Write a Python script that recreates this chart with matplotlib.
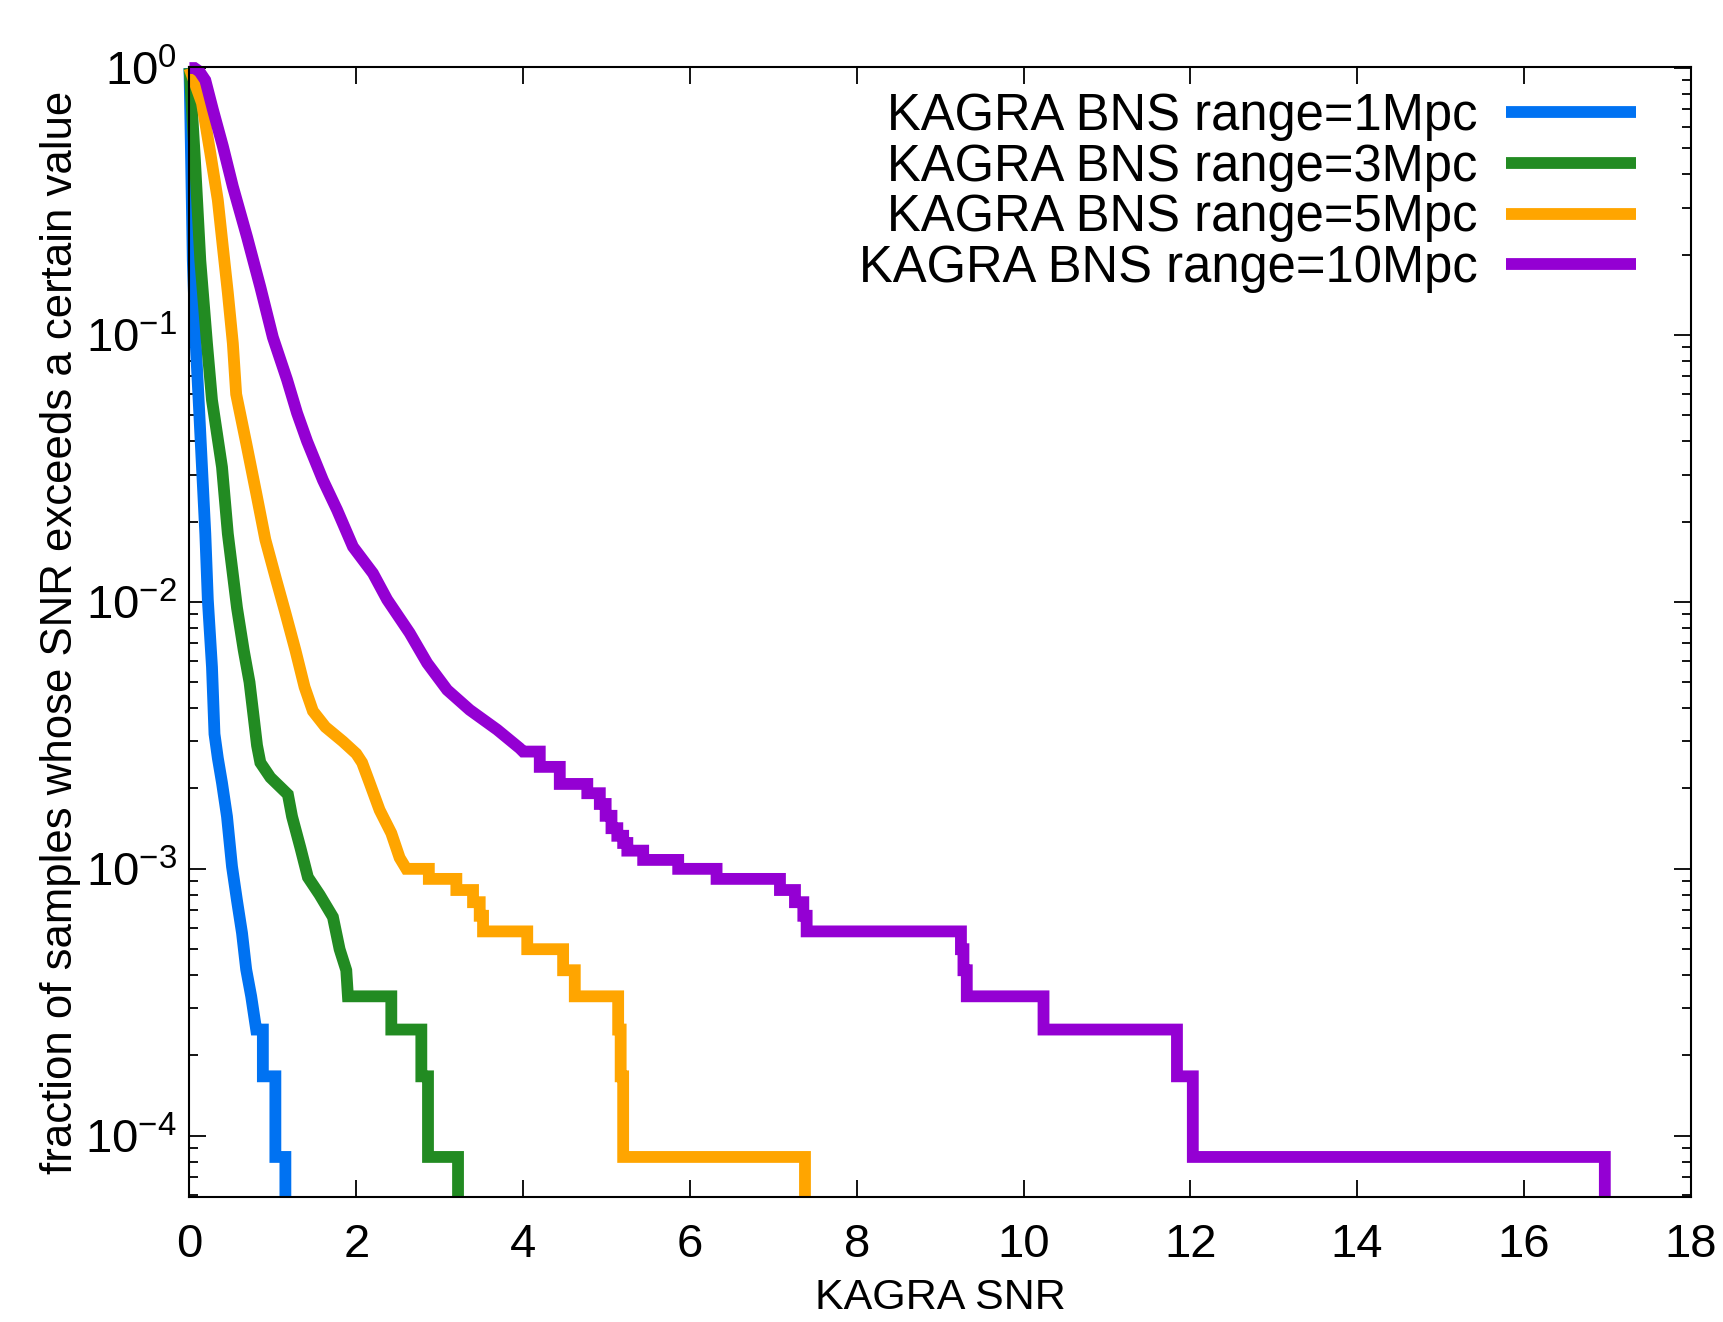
import matplotlib
matplotlib.use('Agg')
import matplotlib.pyplot as plt
from matplotlib.ticker import LogLocator, MultipleLocator, NullLocator

plt.rcParams['font.family'] = ['Liberation Sans', 'DejaVu Sans']
plt.rcParams['mathtext.fontset'] = 'custom'
plt.rcParams['mathtext.rm'] = 'Liberation Sans'
plt.rcParams['axes.unicode_minus'] = False

# bottom of the y axis; the last drop of every curve goes down to it
floor = 5.9e-5

# smooth part of each curve, (SNR, fraction)
snr_1 = [0.0, 0.02, 0.04, 0.07, 0.11, 0.15, 0.19, 0.22, 0.27, 0.30, 0.34, 0.39,
         0.45, 0.51, 0.57, 0.63, 0.68, 0.74, 0.80]
frac_1 = [1.0, 0.45, 0.19, 0.10, 0.057, 0.032, 0.018, 0.0102, 0.0057, 0.0032, 0.0026,
          0.0021, 0.00157, 0.00102, 7.6e-4, 5.75e-4, 4.2e-4, 3.33e-4, 2.5e-4]

snr_3 = [0.0, 0.066, 0.13, 0.21, 0.27, 0.39, 0.46, 0.57, 0.65, 0.72, 0.77, 0.81,
         0.85, 0.97, 1.18, 1.23, 1.33, 1.42, 1.56, 1.72, 1.80, 1.88, 1.90]
frac_3 = [1.0, 0.45, 0.19, 0.093, 0.057, 0.032, 0.018, 0.0095, 0.0066, 0.005, 0.0037,
          0.0029, 0.0025, 0.0022, 0.0019, 0.00157, 0.0012, 9.3e-4, 8.0e-4, 6.6e-4,
          5.0e-4, 4.17e-4, 3.33e-4]

snr_5 = [0.0, 0.15, 0.25, 0.34, 0.40, 0.46, 0.52, 0.56, 0.68, 0.80, 0.91, 1.04,
         1.15, 1.27, 1.38, 1.48, 1.63, 1.84, 2.00, 2.07, 2.16, 2.28, 2.42, 2.52, 2.60]
frac_5 = [1.0, 0.74, 0.48, 0.32, 0.214, 0.144, 0.093, 0.06, 0.0394, 0.0256, 0.0171,
          0.0121, 0.0091, 0.0066, 0.0048, 0.0039, 0.0034, 0.0030, 0.0027, 0.0025,
          0.0021, 0.00166, 0.00136, 0.0011, 1.0e-3]

snr_10 = [0.0, 0.06, 0.12, 0.19, 0.28, 0.40, 0.52, 0.69, 0.85, 1.00, 1.17, 1.29,
          1.41, 1.60, 1.77, 1.96, 2.20, 2.37, 2.64, 2.85, 3.09, 3.36, 3.69, 3.96, 4.00]
frac_10 = [1.0, 1.0, 0.97, 0.90, 0.70, 0.51, 0.36, 0.233, 0.151, 0.098, 0.068, 0.051,
           0.040, 0.0286, 0.0221, 0.0161, 0.0128, 0.0102, 0.00765, 0.0059, 0.00468,
           0.00394, 0.00332, 0.00283, 2.75e-3]

# stepped tail: SNR where the curve drops, and the fraction after the drop
drop_1 = [0.88, 1.03, 1.15]
level_1 = [1.67e-4, 8.33e-5, floor]

drop_3 = [2.42, 2.78, 2.86, 3.22]
level_3 = [2.5e-4, 1.67e-4, 8.33e-5, floor]

drop_5 = [2.87, 3.20, 3.40, 3.48, 3.52, 4.05, 4.48, 4.62, 5.14, 5.17, 5.20, 7.38]
level_5 = [9.17e-4, 8.33e-4, 7.5e-4, 6.67e-4, 5.83e-4, 5.0e-4, 4.17e-4, 3.33e-4,
           2.5e-4, 1.67e-4, 8.33e-5, floor]

drop_10 = [4.20, 4.44, 4.77, 4.92, 4.99, 5.06, 5.13, 5.20, 5.25, 5.44, 5.86, 6.32,
           7.08, 7.26, 7.36, 7.40, 9.25, 9.28, 9.32, 10.24, 11.84, 12.03, 16.97]
level_10 = [2.41e-3, 2.08e-3, 1.92e-3, 1.75e-3, 1.58e-3, 1.42e-3, 1.33e-3, 1.25e-3,
            1.17e-3, 1.08e-3, 1.0e-3, 9.17e-4, 8.33e-4, 7.5e-4, 6.67e-4, 5.83e-4,
            5.0e-4, 4.17e-4, 3.33e-4, 2.5e-4, 1.67e-4, 8.33e-5, floor]

labels = ['KAGRA BNS range=1Mpc', 'KAGRA BNS range=3Mpc',
          'KAGRA BNS range=5Mpc', 'KAGRA BNS range=10Mpc']
colors = ['#0072F2', '#228B22', '#FFA500', '#9400D3']


def outline(snr, frac, drops, levels):
    xs, ys = list(snr), list(frac)
    for x, lv in zip(drops, levels):
        xs += [x, x]
        ys += [ys[-1], lv]
    return xs, ys


curves = [(snr_1, frac_1, drop_1, level_1),
          (snr_3, frac_3, drop_3, level_3),
          (snr_5, frac_5, drop_5, level_5),
          (snr_10, frac_10, drop_10, level_10)]

fig = plt.figure(figsize=(17.24, 13.22), dpi=100)
ax = fig.add_axes([0.1099, 0.0946, 0.8708, 0.8548])

for (snr, frac, drops, levels), c, lab in zip(curves, colors, labels):
    xs, ys = outline(snr, frac, drops, levels)
    ax.plot(xs, ys, color=c, lw=8.5, label=lab, clip_on=False,
            solid_joinstyle='miter', solid_capstyle='butt')

ax.set_yscale('log')
ax.set_xlim(0, 18)
ax.set_ylim(floor, 1.01)
ax.xaxis.set_major_locator(MultipleLocator(2))
ax.xaxis.set_minor_locator(NullLocator())
ax.yaxis.set_major_locator(LogLocator(base=10, numticks=10))
ax.yaxis.set_minor_locator(LogLocator(base=10, subs=range(2, 10), numticks=20))

for s in ax.spines.values():
    s.set_linewidth(1.5)
ax.tick_params(which='both', direction='in', top=True, right=True, width=1.3)
ax.tick_params(which='major', length=12, labelsize=34)
ax.tick_params(which='minor', length=6.5)
ax.tick_params(axis='y', which='major', pad=9)
ax.tick_params(axis='x', which='major', pad=19)

ax.set_xlabel('KAGRA SNR', fontsize=31)
ax.xaxis.set_label_coords(0.5, -0.072)
ax.set_ylabel('fraction of samples whose SNR exceeds a certain value', fontsize=31.5)
ax.yaxis.set_label_coords(-0.072, 0.5)

ax.legend(loc='upper right', bbox_to_anchor=(0.9636, 0.978), frameon=False,
          markerfirst=False, fontsize=36.5, handlelength=2.56, handletextpad=0.57,
          labelspacing=0.035, borderpad=0, borderaxespad=0)

fig.savefig('out.png', dpi=100)
